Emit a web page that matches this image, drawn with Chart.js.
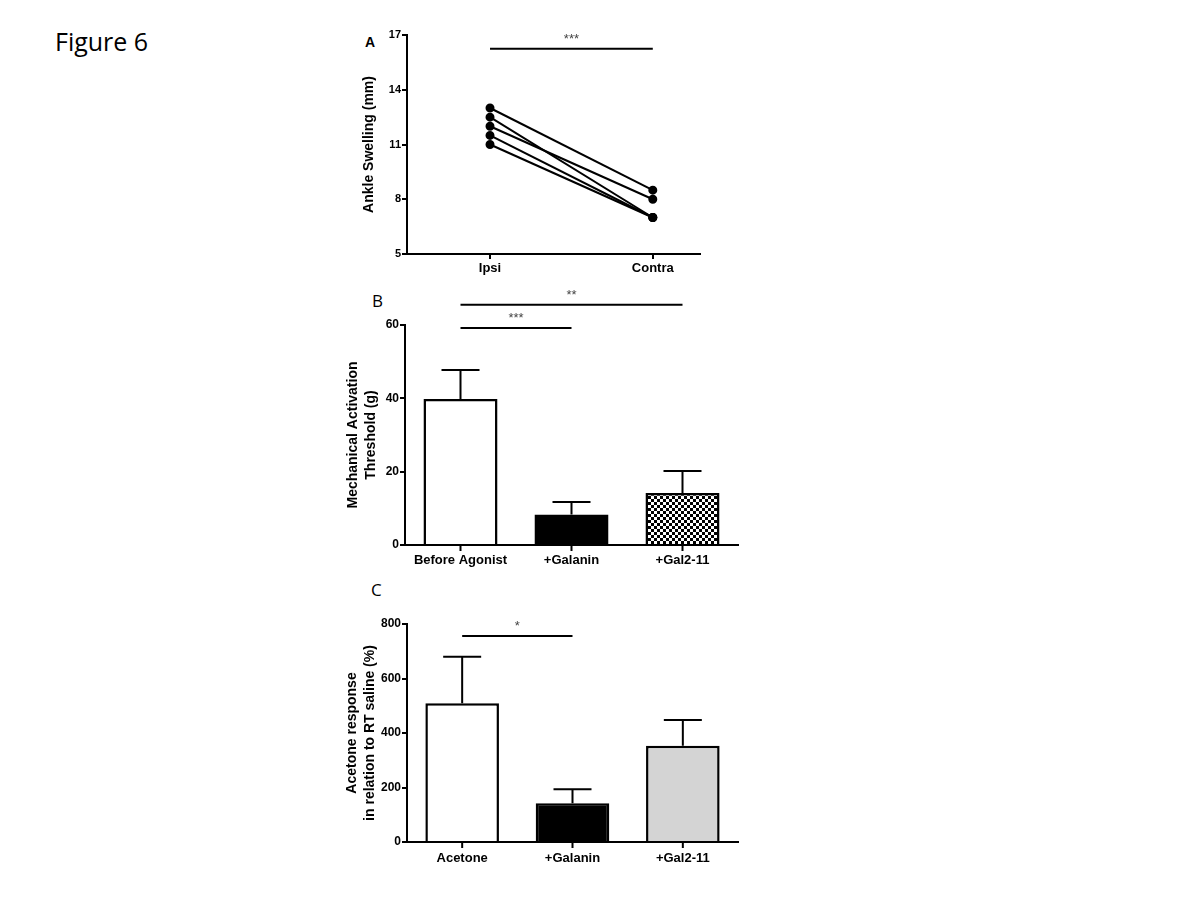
<!DOCTYPE html>
<html>
<head>
<meta charset="utf-8">
<script src="https://cdn.jsdelivr.net/npm/chart.js@4.4.1/dist/chart.umd.min.js"></script>
<style>
  body { margin: 0; background: #fff; }
  #page { position: relative; width: 1200px; height: 900px; background: #fff; }
  canvas { position: absolute; }
  .lbl { position: absolute; color: #000; }
</style>
</head>
<body>
<div id="page">
  <div class="lbl" style="left:55px;top:24px;font:25px 'Open Sans';">Figure 6</div>
  <div class="lbl" style="left:365px;top:34px;font:bold 14px 'Liberation Sans';">A</div>
  <div class="lbl" style="left:372px;top:289px;font:17px 'Open Sans';">B</div>
  <div class="lbl" style="left:371px;top:578px;font:17px 'Open Sans';">C</div>
  <canvas id="chartA" width="380" height="270" style="left:330px;top:20px;"></canvas>
  <canvas id="chartB" width="420" height="295" style="left:330px;top:280px;"></canvas>
  <canvas id="chartC" width="420" height="295" style="left:330px;top:575px;"></canvas>
</div>
<script>
// panel A: paired ankle swelling values
const swellingLabels = ['Ipsi', 'Contra'];
const swellingIpsi = [13, 12.5, 12, 11.5, 11];
const swellingContra = [8.5, 7, 8, 7, 7];
const swellingTicks = [5, 8, 11, 14, 17];

// panel B: mechanical activation threshold
const mechLabels = ['Before Agonist', '+Galanin', '+Gal2-11'];
const mechMeans = [39.8, 8.3, 14.2];
const mechErr = [7.9, 3.4, 6.0];

// panel C: acetone response
const acetoneLabels = ['Acetone', '+Galanin', '+Gal2-11'];
const acetoneMeans = [509, 142, 353];
const acetoneErr = [171, 52, 95];

// significance brackets: [from index, to index, height in axis units, label]
const sigA = [[0, 1, 16.25, '***']];
const sigB = [[0, 1, 59.2, '***'], [0, 2, 65.5, '**']];
const sigC = [[0, 1, 756, '*']];

Chart.defaults.font.family = "'Liberation Sans', Arial, sans-serif";
Chart.defaults.font.weight = 'bold';
Chart.defaults.font.size = 12;
Chart.defaults.color = '#000';
Chart.defaults.animation = false;

function checkerPattern() {
  const c = document.createElement('canvas');
  c.width = 6; c.height = 6;
  const g = c.getContext('2d');
  g.fillStyle = '#fff';
  g.fillRect(0, 0, 6, 6);
  g.fillStyle = '#000';
  g.fillRect(0, 0, 3, 3);
  g.fillRect(3, 3, 3, 3);
  return g.createPattern(c, 'repeat');
}

const errorBars = {
  id: 'errorBars',
  afterDatasetsDraw(chart, args, opts) {
    if (!opts.values) return;
    const ctx = chart.ctx;
    const y = chart.scales.y;
    const meta = chart.getDatasetMeta(0);
    ctx.save();
    ctx.strokeStyle = '#000';
    ctx.lineWidth = 2;
    meta.data.forEach((bar, i) => {
      const top = y.getPixelForValue(chart.data.datasets[0].data[i]);
      const end = y.getPixelForValue(chart.data.datasets[0].data[i] + opts.values[i]);
      ctx.beginPath();
      ctx.moveTo(bar.x, top);
      ctx.lineTo(bar.x, end);
      ctx.moveTo(bar.x - 19, end);
      ctx.lineTo(bar.x + 19, end);
      ctx.stroke();
    });
    ctx.restore();
  }
};

// tick marks under the x axis at each category centre
const centerTicks = {
  id: 'centerTicks',
  afterDraw(chart, args, opts) {
    if (!opts.on) return;
    const ctx = chart.ctx;
    const x = chart.scales.x;
    ctx.save();
    ctx.strokeStyle = '#000';
    ctx.lineWidth = 2;
    x.ticks.forEach((t, i) => {
      const px = x.getPixelForTick(i);
      ctx.beginPath();
      ctx.moveTo(px, x.top);
      ctx.lineTo(px, x.top + 6);
      ctx.stroke();
    });
    ctx.restore();
  }
};

const sigBars = {
  id: 'sigBars',
  afterDraw(chart, args, opts) {
    if (!opts.list) return;
    const ctx = chart.ctx;
    const x = chart.scales.x, y = chart.scales.y;
    ctx.save();
    opts.list.forEach(([a, b, h, txt]) => {
      const x1 = x.getPixelForValue(a), x2 = x.getPixelForValue(b);
      const py = y.getPixelForValue(h);
      ctx.strokeStyle = '#000';
      ctx.lineWidth = 2;
      ctx.beginPath();
      ctx.moveTo(x1, py);
      ctx.lineTo(x2, py);
      ctx.stroke();
      ctx.fillStyle = '#444';
      ctx.font = "13px 'Liberation Sans'";
      ctx.textAlign = 'center';
      ctx.textBaseline = 'bottom';
      ctx.fillText(txt, (x1 + x2) / 2, py - 3);
    });
    ctx.restore();
  }
};

Chart.register(errorBars, centerTicks, sigBars);

function axisGrid() {
  return { display: true, drawOnChartArea: false, drawTicks: true, tickLength: 5, color: '#000', lineWidth: 2 };
}
function hiddenGrid() {
  return { display: true, offset: false, drawOnChartArea: false, drawTicks: true, tickLength: 6, color: 'rgba(0,0,0,0)' };
}

// ---- Panel A ----
new Chart(document.getElementById('chartA'), {
  type: 'line',
  data: {
    datasets: swellingIpsi.map((v, i) => ({
      data: [{ x: 0, y: v }, { x: 1, y: swellingContra[i] }],
      borderColor: '#000',
      backgroundColor: '#000',
      borderWidth: 2,
      pointRadius: 3.5,
      pointBackgroundColor: '#000'
    }))
  },
  options: {
    responsive: false,
    devicePixelRatio: 1,
    layout: { padding: { left: 0, top: 15, right: 10, bottom: 0 } },
    plugins: { legend: { display: false }, tooltip: { enabled: false }, sigBars: { list: sigA } },
    scales: {
      x: {
        type: 'linear', min: -0.51, max: 1.29,
        afterBuildTicks: s => { s.ticks = [{ value: 0 }, { value: 1 }]; },
        afterFit: s => { s.height = 36; },
        ticks: { callback: v => swellingLabels[v], font: { size: 13 }, padding: 2 },
        grid: axisGrid(),
        border: { color: '#000', width: 2 }
      },
      y: {
        min: 5, max: 17,
        afterBuildTicks: s => { s.ticks = swellingTicks.map(v => ({ value: v })); },
        afterFit: s => { s.width = 77; },
        ticks: { font: { size: 11 }, padding: 1 },
        grid: axisGrid(),
        border: { color: '#000', width: 2 },
        title: { display: true, text: 'Ankle Swelling (mm)', font: { size: 14, weight: 'bold' }, padding: { top: 31, bottom: 0 } }
      }
    }
  }
});

// ---- Panel B ----
new Chart(document.getElementById('chartB'), {
  type: 'bar',
  data: {
    labels: mechLabels,
    datasets: [{
      data: mechMeans,
      backgroundColor: ['#fff', '#000', checkerPattern()],
      borderColor: '#000',
      borderWidth: 2.5,
      categoryPercentage: 1,
      barPercentage: 0.667
    }]
  },
  options: {
    responsive: false,
    devicePixelRatio: 1,
    layout: { padding: { left: 0, top: 45, right: 12, bottom: 0 } },
    plugins: { legend: { display: false }, tooltip: { enabled: false }, errorBars: { values: mechErr }, centerTicks: { on: true }, sigBars: { list: sigB } },
    scales: {
      x: {
        afterFit: s => { s.height = 30; },
        ticks: { font: { size: 13 }, padding: 2 },
        grid: hiddenGrid(),
        border: { color: '#000', width: 2 }
      },
      y: {
        min: 0, max: 60,
        ticks: { stepSize: 20, font: { size: 12 }, padding: 1 },
        afterFit: s => { s.width = 75; },
        grid: axisGrid(),
        border: { color: '#000', width: 2 },
        title: { display: true, text: ['Mechanical Activation', 'Threshold (g)'], font: { size: 14, weight: 'bold', lineHeight: 1.3 }, padding: { top: 14, bottom: 0 } }
      }
    }
  }
});

// ---- Panel C ----
new Chart(document.getElementById('chartC'), {
  type: 'bar',
  data: {
    labels: acetoneLabels,
    datasets: [{
      data: acetoneMeans,
      backgroundColor: ['#fff', '#000', '#d4d4d4'],
      borderColor: '#000',
      borderWidth: 2.5,
      categoryPercentage: 1,
      barPercentage: 0.667
    }]
  },
  options: {
    responsive: false,
    devicePixelRatio: 1,
    layout: { padding: { left: 0, top: 49, right: 12, bottom: 0 } },
    plugins: { legend: { display: false }, tooltip: { enabled: false }, errorBars: { values: acetoneErr }, centerTicks: { on: true }, sigBars: { list: sigC } },
    scales: {
      x: {
        afterFit: s => { s.height = 28; },
        ticks: { font: { size: 13 }, padding: 3 },
        grid: hiddenGrid(),
        border: { color: '#000', width: 2 }
      },
      y: {
        min: 0, max: 800,
        ticks: { stepSize: 200, font: { size: 12 }, padding: 1 },
        afterFit: s => { s.width = 77; },
        grid: axisGrid(),
        border: { color: '#000', width: 2 },
        title: { display: true, text: ['Acetone response', 'in relation to RT saline (%)'], font: { size: 14, weight: 'bold', lineHeight: 1.3 }, padding: { top: 13, bottom: 0 } }
      }
    }
  }
});
</script>
</body>
</html>
